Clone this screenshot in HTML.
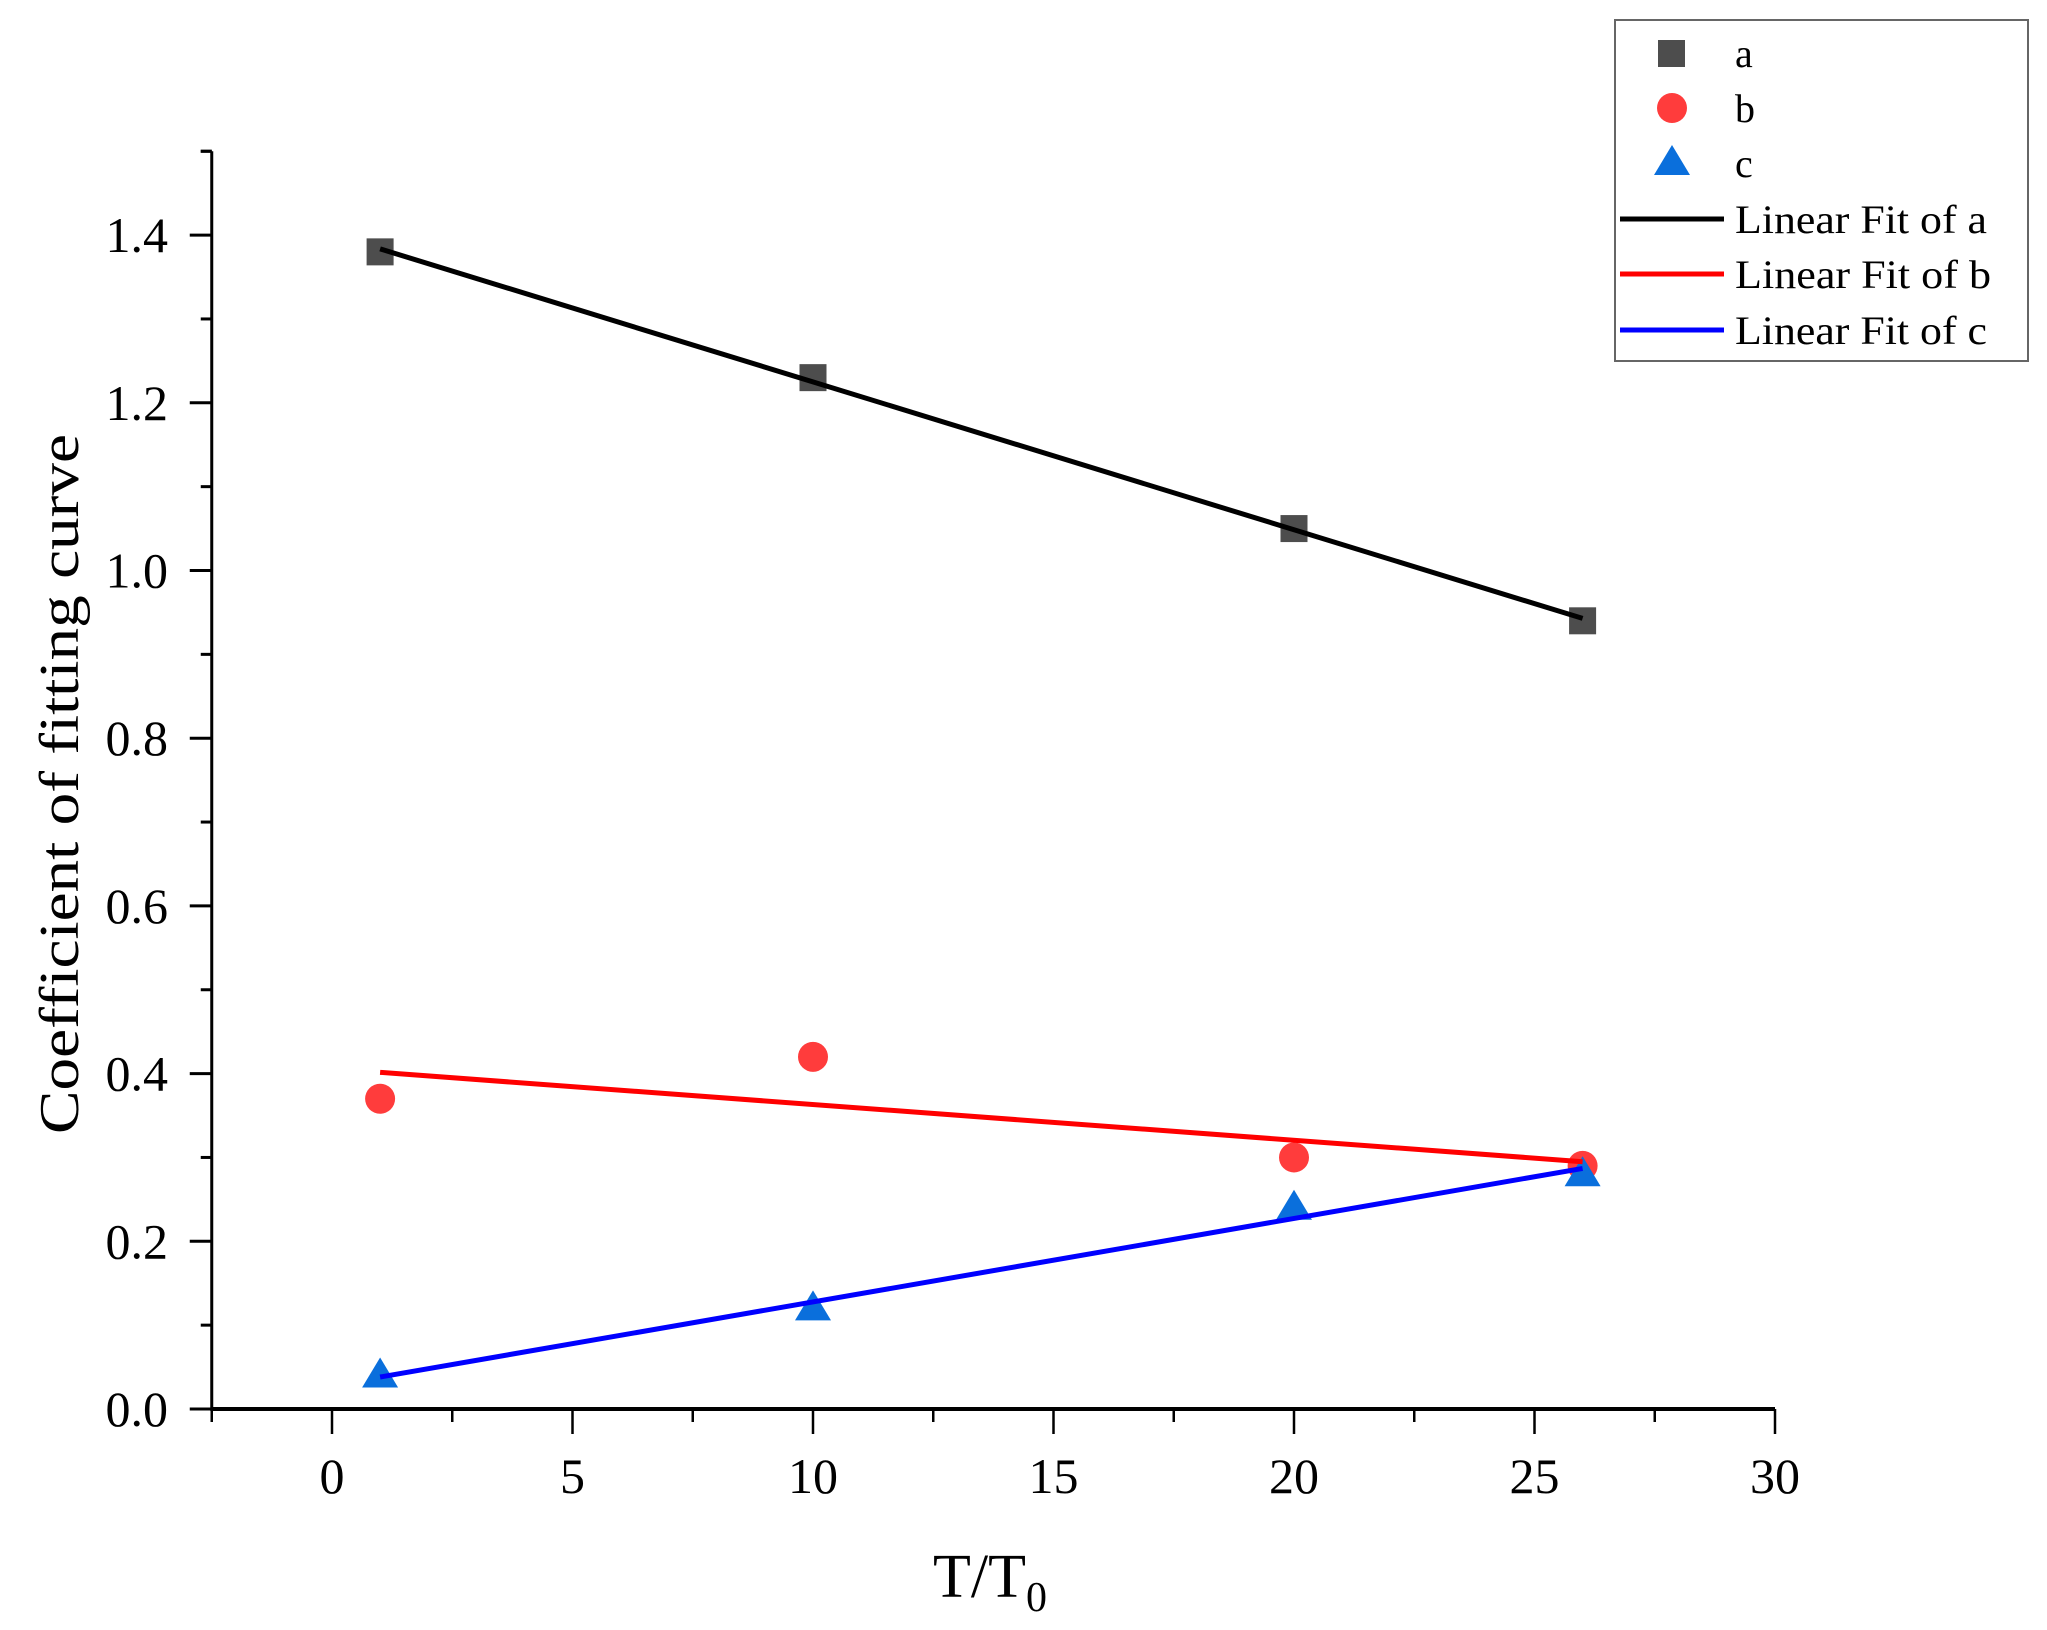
<!DOCTYPE html>
<html><head><meta charset="utf-8"><style>
html,body{margin:0;padding:0;background:#fff;}
svg{display:block;font-family:"Liberation Serif",serif;}
</style></head><body>
<svg id="chart" width="2047" height="1630" viewBox="0 0 2047 1630" xmlns="http://www.w3.org/2000/svg">
<g id="axes"></g>
<g id="fits"></g>
<g id="points"></g>
<text x="0" y="0" transform="translate(78,784) rotate(-90)" text-anchor="middle" font-size="56" textLength="700" lengthAdjust="spacingAndGlyphs">Coefficient of fitting curve</text>
<text x="933" y="1597" font-size="62">T/T<tspan font-size="42" dy="14">0</tspan></text>
<g>
<rect x="1615" y="20" width="413" height="341" fill="#fff" stroke="#666" stroke-width="2"/>
<rect x="1658" y="40" width="27" height="27" fill="#4d4d4d"/>
<text x="1735" y="67" font-size="40">a</text>
<circle cx="1672" cy="108" r="15" fill="#ff3c3c"/>
<text x="1735" y="122" font-size="40">b</text>
<polygon points="1672,145 1690,175 1654,175" fill="#0a6fdc"/>
<text x="1735" y="177" font-size="40">c</text>
<line x1="1620" y1="219" x2="1724" y2="219" stroke="#000" stroke-width="5"/>
<text x="1735" y="233" font-size="40" textLength="252" lengthAdjust="spacingAndGlyphs">Linear Fit of a</text>
<line x1="1620" y1="274" x2="1724" y2="274" stroke="#ff0000" stroke-width="5"/>
<text x="1735" y="288" font-size="40" textLength="256" lengthAdjust="spacingAndGlyphs">Linear Fit of b</text>
<line x1="1620" y1="330" x2="1724" y2="330" stroke="#0000ff" stroke-width="5"/>
<text x="1735" y="344" font-size="40" textLength="252" lengthAdjust="spacingAndGlyphs">Linear Fit of c</text>
</g>
</svg>
<script>
const xValues = [1, 10, 20, 26];
const seriesA = [1.38, 1.23, 1.05, 0.94];
const seriesB = [0.37, 0.42, 0.30, 0.29];
const seriesC = [0.04, 0.12, 0.24, 0.28];
const xTicks = [0, 5, 10, 15, 20, 25, 30];
const yTicks = [0.0, 0.2, 0.4, 0.6, 0.8, 1.0, 1.2, 1.4];

const NS = "http://www.w3.org/2000/svg";
const X0 = 332, XS = 48.1, Y0 = 1409, YS = 838.5;
function sx(v){ return X0 + v * XS; }
function sy(v){ return Y0 - v * YS; }
function mk(tag, attrs, parent){
  const e = document.createElementNS(NS, tag);
  for (const k in attrs) e.setAttribute(k, attrs[k]);
  parent.appendChild(e); return e;
}
const axes = document.getElementById('axes');
const xMin = -2.5, xMax = 30, yMax = 1.5;
let el;
el = mk('line', {x1: sx(xMin), y1: sy(0), x2: sx(xMax), y2: sy(0), stroke: '#000', 'stroke-width': 4}, axes);


el = mk('line', {x1: sx(xMin), y1: sy(0)+2, x2: sx(xMin), y2: sy(yMax), stroke: '#000', 'stroke-width': 3}, axes);


el = mk('line', {x1: sx(xMin)-11, y1: sy(yMax), x2: sx(xMin), y2: sy(yMax), stroke: '#000', 'stroke-width': 3}, axes);


for (let v = xMin; v <= xMax + 0.01; v += 2.5) {
  const major = Math.abs(v % 5) < 0.01;
  el = mk('line', {x1: sx(v), y1: sy(0), x2: sx(v), y2: sy(0) + (major ? 25 : 13), stroke: '#000', 'stroke-width': 2.5}, axes);
  
  
}
xTicks.forEach(t => {
  el = mk('text', {x: sx(t), y: 1493, 'font-size': 50, 'text-anchor': 'middle'}, axes);
  el.textContent = String(t);
  
  
});
for (let v = 0.1; v < yMax; v += 0.2) {
  el = mk('line', {x1: sx(xMin)-11, y1: sy(v), x2: sx(xMin), y2: sy(v), stroke: '#000', 'stroke-width': 3}, axes);
  
  
}
yTicks.forEach(t => {
  el = mk('line', {x1: sx(xMin)-22, y1: sy(t), x2: sx(xMin), y2: sy(t), stroke: '#000', 'stroke-width': 3}, axes);
  
  
  el = mk('text', {x: 168, y: sy(t) + 17, 'font-size': 50, 'text-anchor': 'end'}, axes);
  el.textContent = t.toFixed(1);
  
  
});

function fit(xs, ys){
  const n = xs.length;
  const mx = xs.reduce((a,b)=>a+b,0)/n, my = ys.reduce((a,b)=>a+b,0)/n;
  let sxy = 0, sxx = 0;
  for (let i = 0; i < n; i++){ sxy += (xs[i]-mx)*(ys[i]-my); sxx += (xs[i]-mx)*(xs[i]-mx); }
  const m = sxy/sxx; return [m, my - m*mx];
}
const fits = document.getElementById('fits');
const pts = document.getElementById('points');
const series = [
  {ys: seriesA, line: '#000000', name: 'a'},
  {ys: seriesB, line: '#ff0000', name: 'b'},
  {ys: seriesC, line: '#0000ff', name: 'c'}
];
series.forEach(s => {
  const [m, b] = fit(xValues, s.ys);
  const xa = xValues[0], xb = xValues[xValues.length-1];
  el = mk('line', {x1: sx(xa), y1: sy(m*xa+b), x2: sx(xb), y2: sy(m*xb+b), stroke: s.line, 'stroke-width': 5}, fits);
  
  
});
function drawPoints(){
  xValues.forEach((x, i) => {
    el = mk('rect', {x: sx(x)-13.5, y: sy(seriesA[i])-13.5, width: 27, height: 27, fill: '#4d4d4d'}, pts);
    
    
    el = mk('circle', {cx: sx(x), cy: sy(seriesB[i]), r: 15, fill: '#ff3c3c'}, pts);
    
    
    const cx = sx(x), cy = sy(seriesC[i]);
    el = mk('polygon', {points: `${cx},${cy-18} ${cx+18},${cy+12} ${cx-18},${cy+12}`, fill: '#0a6fdc'}, pts);
    
    
  });
}
drawPoints();
document.getElementById('chart').appendChild(fits);
</script>
</body></html>
